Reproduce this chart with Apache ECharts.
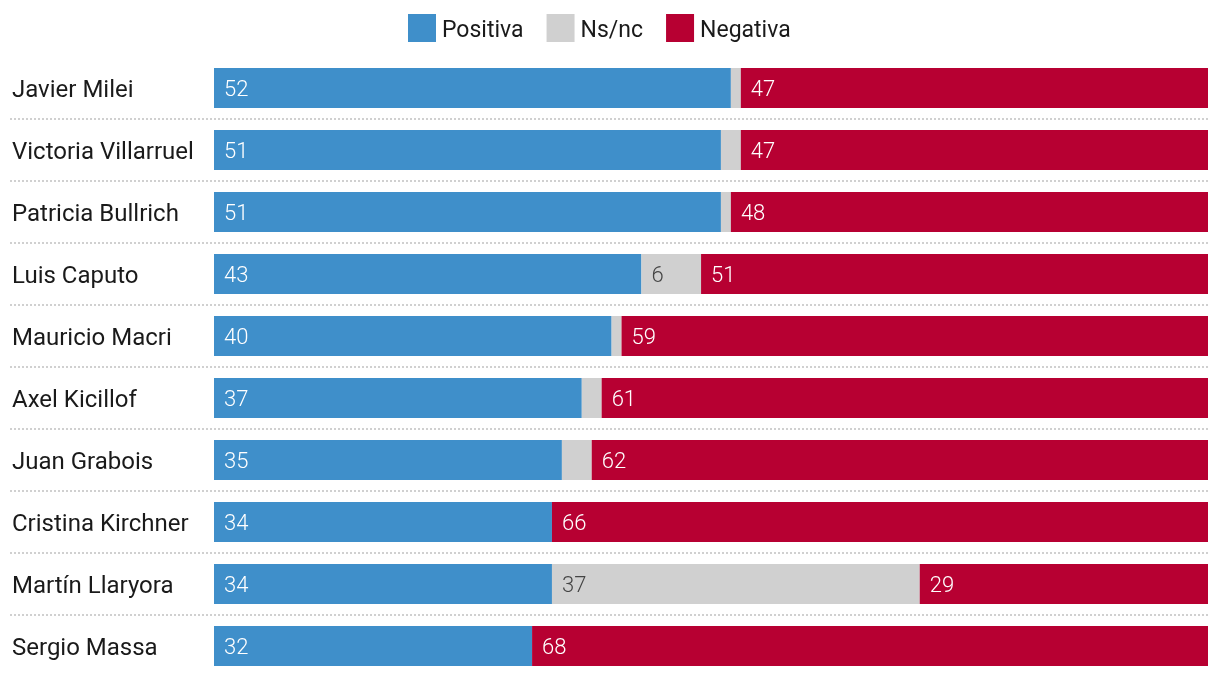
<!DOCTYPE html>
<html>
<head>
<meta charset="utf-8">
<script src="https://cdn.jsdelivr.net/npm/echarts@6/dist/echarts.min.js"></script>
<style>html,body{margin:0;padding:0;background:#fff;}#c{width:1220px;height:678px;}</style>
</head>
<body>
<div id="c"></div>
<script>
var categories = ['Javier Milei','Victoria Villarruel','Patricia Bullrich','Luis Caputo','Mauricio Macri','Axel Kicillof','Juan Grabois','Cristina Kirchner','Martín Llaryora','Sergio Massa'];
var positiva = [52,51,51,43,40,37,35,34,34,32];
var nsnc     = [1,2,1,6,1,2,3,0,37,0];
var negativa = [47,47,48,51,59,61,62,66,29,68];
var seriesNames = ['Positiva','Ns/nc','Negativa'];

var chart = echarts.init(document.getElementById('c'));
var font = 'Roboto';
function lbl(color){
  return {show:true, position:'insideLeft', distance:10, color:color, fontFamily:font, fontSize:22, fontWeight:300,
    offset:[0,2],
    formatter:function(p){return p.value>=5?String(p.value):'';}};
}
var sepData = [];
for (var i=0;i<categories.length-1;i++) sepData.push([0,i]);

chart.setOption({
  animation:false,
  legend:{top:14, left:408, padding:0, itemWidth:28, itemHeight:28, itemGap:23, icon:'rect',
    formatter:function(n){return '{t|' + n + '}{s|}';},
    textStyle:{fontFamily:font, fontSize:23, color:'#1a1a1a', padding:[0,0,0,1],
      rich:{
        t:{fontFamily:font, fontSize:23, color:'#1a1a1a', lineHeight:26, verticalAlign:'bottom'},
        s:{fontFamily:font, fontSize:23, lineHeight:30}
      }}, data:seriesNames},
  grid:[
    {left:214, right:12, top:57, bottom:1},
    {left:10, right:12, top:57, bottom:1}
  ],
  xAxis:[
    {type:'value', min:0, max:100, show:false, gridIndex:0},
    {type:'value', min:0, max:100, show:false, gridIndex:1}
  ],
  yAxis:[
    {type:'category', data:categories, inverse:true, gridIndex:0,
      axisLine:{show:false}, axisTick:{show:false}, splitLine:{show:false},
      axisLabel:{align:'left', margin:202, color:'#1a1a1a',
        formatter:function(v){return '{t|' + v + '}{s| }';},
        rich:{
          t:{fontFamily:font, fontSize:24, color:'#1a1a1a', lineHeight:28, verticalAlign:'bottom'},
          s:{fontFamily:font, fontSize:24, lineHeight:30}
        }}},
    {type:'category', data:categories, inverse:true, gridIndex:1, show:false}
  ],
  series:[
    {name:seriesNames[0], type:'bar', stack:'a', data:positiva, barWidth:40, itemStyle:{color:'#3f8fca'}, label:lbl('#fff'), z:3},
    {name:seriesNames[1], type:'bar', stack:'a', data:nsnc, barWidth:40, itemStyle:{color:'#d0d0d0'}, label:lbl('#444'), z:3},
    {name:seriesNames[2], type:'bar', stack:'a', data:negativa, barWidth:40, itemStyle:{color:'#b70032'}, label:lbl('#fff'), z:3},
    {type:'custom', xAxisIndex:1, yAxisIndex:1, data:sepData, silent:true, z:1,
      renderItem:function(params, api){
        var c = api.coord([0, api.value(1)]);
        var band = api.size([0,1])[1];
        var y = Math.round(c[1] + band/2);
        var x0 = params.coordSys.x, x1 = params.coordSys.x + params.coordSys.width;
        return {type:'line', shape:{x1:x0, y1:y, x2:x1, y2:y},
          style:{stroke:'#d0d0d0', lineWidth:2, lineDash:[2,2]}};
      }}
  ]
});
</script>
</body>
</html>
